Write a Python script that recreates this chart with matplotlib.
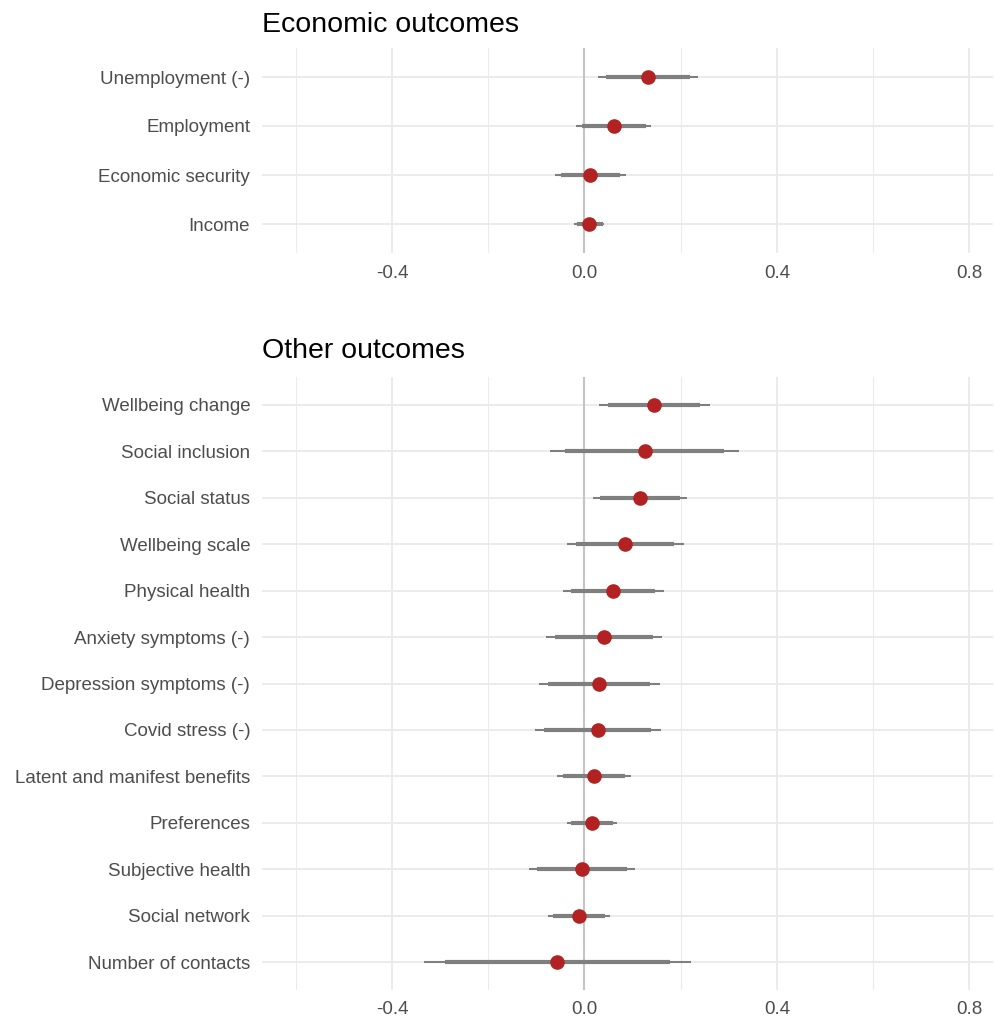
import matplotlib
matplotlib.use("Agg")
import matplotlib.pyplot as plt
import numpy as np

plt.rcParams['font.family'] = ['Liberation Sans', 'DejaVu Sans']

# ---- Data (top to bottom) ----
econ_labels = ["Unemployment (-)", "Employment", "Economic security", "Income"]
econ_est = [0.132, 0.061, 0.012, 0.010]
econ_lo_in = [0.045, -0.005, -0.049, -0.016]
econ_hi_in = [0.220, 0.127, 0.074, 0.038]
econ_lo_out = [0.029, -0.017, -0.061, -0.021]
econ_hi_out = [0.236, 0.139, 0.086, 0.041]

other_labels = ["Wellbeing change", "Social inclusion", "Social status", "Wellbeing scale",
                "Physical health", "Anxiety symptoms (-)", "Depression symptoms (-)",
                "Covid stress (-)", "Latent and manifest benefits", "Preferences",
                "Subjective health", "Social network", "Number of contacts"]
other_est = [0.145, 0.125, 0.115, 0.085, 0.059, 0.041, 0.031, 0.028, 0.019, 0.015,
             -0.005, -0.012, -0.056]
other_lo_in = [0.048, -0.040, 0.032, -0.017, -0.028, -0.061, -0.075, -0.083, -0.045,
               -0.027, -0.099, -0.066, -0.290]
other_hi_in = [0.241, 0.291, 0.199, 0.187, 0.147, 0.142, 0.137, 0.139, 0.085, 0.059,
               0.089, 0.043, 0.178]
other_lo_out = [0.030, -0.071, 0.017, -0.037, -0.045, -0.080, -0.095, -0.103, -0.057,
                -0.036, -0.116, -0.076, -0.334]
other_hi_out = [0.260, 0.321, 0.214, 0.207, 0.165, 0.162, 0.156, 0.160, 0.096, 0.068,
                0.106, 0.053, 0.222]

x_major = [-0.4, 0.0, 0.4, 0.8]
x_minor = [-0.6, -0.2, 0.2, 0.6]
x_limits = (-0.670, 0.849)

W, H = 995, 1021
fig = plt.figure(figsize=(W / 100, H / 100), dpi=100)

GRID = "#EBEBEB"
TXT = "#4D4D4D"
LINE = "#7F7F7F"
PT = "#B22222"
FS = 13.5


def panel(rect, labels, est, lo_in, hi_in, lo_out, hi_out, title, title_y):
    ax = fig.add_axes(rect)
    n = len(labels)
    y = np.arange(n)
    ax.set_xlim(*x_limits)
    ax.set_ylim(n - 1 + 0.6, -0.6)
    for s in ax.spines.values():
        s.set_visible(False)
    for xv in x_minor:
        ax.axvline(xv, color=GRID, lw=0.75, zorder=0)
    for xv in x_major:
        ax.axvline(xv, color=GRID, lw=1.4, zorder=0)
    for yv in y:
        ax.axhline(yv, color=GRID, lw=1.4, zorder=0)
    ax.axvline(0, color="#C4C4C4", lw=1.5, zorder=1)
    ax.hlines(y, lo_out, hi_out, color=LINE, lw=1.5, zorder=2)
    ax.hlines(y, lo_in, hi_in, color=LINE, lw=3.0, zorder=3)
    ax.plot(est, y, "o", color=PT, ms=9.5, mec=PT, zorder=4)
    ax.set_yticks(y)
    ax.set_yticklabels(labels)
    ax.set_xticks(x_major)
    ax.set_xticklabels([f"{v:.1f}" for v in x_major])
    ax.tick_params(axis="both", length=0, labelsize=FS, labelcolor=TXT)
    ax.tick_params(axis="y", pad=8.5)
    ax.tick_params(axis="x", pad=8)
    fig.text(262 / W, 1 - title_y / H, title, fontsize=20.5, color="black",
             ha="left", va="baseline")
    return ax


panel([262 / W, 1 - 253.4 / H, (993 - 262) / W, (253.4 - 47.6) / H],
      econ_labels, econ_est, econ_lo_in, econ_hi_in, econ_lo_out, econ_hi_out,
      "Economic outcomes", 31.7)
panel([262 / W, 1 - 990 / H, (993 - 262) / W, (990 - 377) / H],
      other_labels, other_est, other_lo_in, other_hi_in, other_lo_out, other_hi_out,
      "Other outcomes", 358.3)

fig.savefig("out.png", dpi=100)
